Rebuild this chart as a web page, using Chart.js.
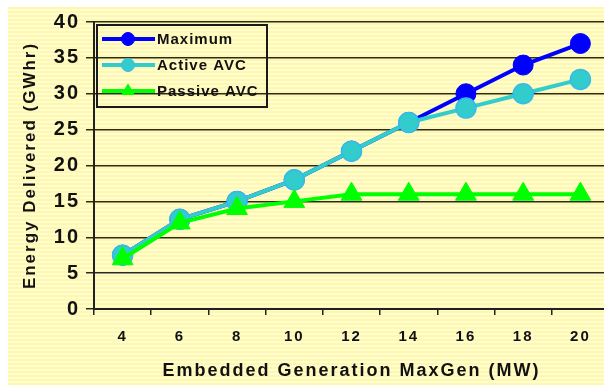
<!DOCTYPE html>
<html>
<head>
<meta charset="utf-8">
<script src="https://cdn.jsdelivr.net/npm/chart.js@4.4.1/dist/chart.umd.min.js"></script>
<style>
html,body{margin:0;padding:0;overflow:hidden;background:#fff;}
#wrap{position:absolute;left:0;top:0;width:622px;height:385px;}
</style>
</head>
<body>
<div id="wrap"><canvas id="c" width="622" height="385"></canvas></div>
<script>
const categories = ['4','6','8','10','12','14','16','18','20'];
const maximum = [7.5, 12.5, 15, 18, 22, 26, 30, 34, 37];
const activeAVC = [7.5, 12.5, 15, 18, 22, 26, 28, 30, 32];
const passiveAVC = [7, 12, 14, 15, 16, 16, 16, 16, 16];
const seriesNames = ['Maximum', 'Active AVC', 'Passive AVC'];
const yTitle = 'Energy Delivered (GWhr)';
const xTitle = 'Embedded Generation MaxGen (MW)';

const FONT = "'Liberation Sans', Arial, sans-serif";

const bgPlugin = {
  id: 'bg',
  beforeDraw(chart) {
    const ctx = chart.ctx;
    ctx.save();
    ctx.fillStyle = '#ffffff';
    ctx.fillRect(0, 0, chart.width, chart.height);
    for (let y = 7; y < chart.height; y += 4) {
      ctx.fillStyle = '#fff8a6';
      ctx.fillRect(8, y, chart.width, 2);
      ctx.fillStyle = '#fffdd8';
      ctx.fillRect(8, y + 2, chart.width, 2);
    }
    ctx.restore();
    ctx.letterSpacing = '2px';
  }
};

const legendPlugin = {
  id: 'boxLegend',
  afterDatasetsDraw(chart) {
    const ctx = chart.ctx;
    const a = chart.chartArea;
    const x0 = a.left + 3, y0 = a.top + 3, w = 170, h = 82;
    ctx.save();
    ctx.letterSpacing = '1px';
    ctx.strokeStyle = '#1a1a1a';
    ctx.lineWidth = 2;
    ctx.strokeRect(x0, y0, w, h);
    chart.data.datasets.forEach((ds, i) => {
      const cy = y0 + 14 + i * 26;
      ctx.strokeStyle = ds.borderColor;
      ctx.lineWidth = ds.borderWidth;
      ctx.beginPath();
      ctx.moveTo(x0 + 5, cy);
      ctx.lineTo(x0 + 58, cy);
      ctx.stroke();
      ctx.fillStyle = ds.pointBackgroundColor;
      ctx.strokeStyle = ds.pointBorderColor;
      ctx.lineWidth = 1;
      const r = ds.pointStyle === 'triangle' ? 7 : 6.5;
      Chart.helpers.drawPoint(ctx, {pointStyle: ds.pointStyle, rotation: 0, borderWidth: 1, radius: r}, x0 + 31, cy);
      ctx.fillStyle = '#111';
      ctx.font = "bold 15px " + FONT;
      ctx.textBaseline = 'middle';
      ctx.textAlign = 'left';
      ctx.fillText(ds.label, x0 + 60, cy + 1);
    });
    ctx.restore();
  }
};

new Chart(document.getElementById('c'), {
  type: 'line',
  data: {
    labels: categories,
    datasets: [
      {label: seriesNames[0], data: maximum, borderColor: '#0000ff', backgroundColor: '#0000ff',
       pointBackgroundColor: '#0000ff', pointBorderColor: '#0000ff', pointStyle: 'circle',
       borderWidth: 4, pointRadius: 10, pointBorderWidth: 1, order: 2},
      {label: seriesNames[1], data: activeAVC, borderColor: '#33cccc', backgroundColor: '#33cccc',
       pointBackgroundColor: '#33cccc', pointBorderColor: '#33bbee', pointStyle: 'circle',
       borderWidth: 4, pointRadius: 10, pointBorderWidth: 1.5, order: 1},
      {label: seriesNames[2], data: passiveAVC, borderColor: '#00ff00', backgroundColor: '#00ff00',
       pointBackgroundColor: '#00ff00', pointBorderColor: '#00ff00', pointStyle: 'triangle',
       borderWidth: 4, pointRadius: 12, pointBorderWidth: 1, order: 0}
    ]
  },
  options: {
    responsive: false,
    animation: false,
    layout: {padding: {left: 8, top: 22, right: 0, bottom: 0}},
    plugins: {legend: {display: false}, tooltip: {enabled: false}},
    scales: {
      x: {
        offset: true,
        grid: {offset: true, drawOnChartArea: false, drawTicks: true, tickLength: 6, color: '#222', lineWidth: 1.5},
        border: {display: true, color: '#222', width: 2},
        ticks: {font: {family: FONT, size: 15, weight: 'bold'}, color: '#111', padding: 13, maxRotation: 0},
        title: {display: true, text: xTitle, font: {family: FONT, size: 18, weight: 'bold'}, color: '#111', padding: {top: 0, bottom: 3}},
        afterFit(s) { s.height = 76; }
      },
      y: {
        min: 0, max: 40,
        grid: {color: '#2a2a20', lineWidth: 1.5, tickLength: 8},
        border: {display: true, color: '#222', width: 2},
        ticks: {stepSize: 5, font: {family: FONT, size: 20, weight: 'bold'}, color: '#111', padding: 6},
        title: {display: true, text: yTitle, font: {family: FONT, size: 17, weight: 'bold'}, color: '#111', padding: {top: 12, bottom: 0}},
        afterFit(s) { s.width = 86; }
      }
    }
  },
  plugins: [bgPlugin, legendPlugin]
});
</script>
</body>
</html>
